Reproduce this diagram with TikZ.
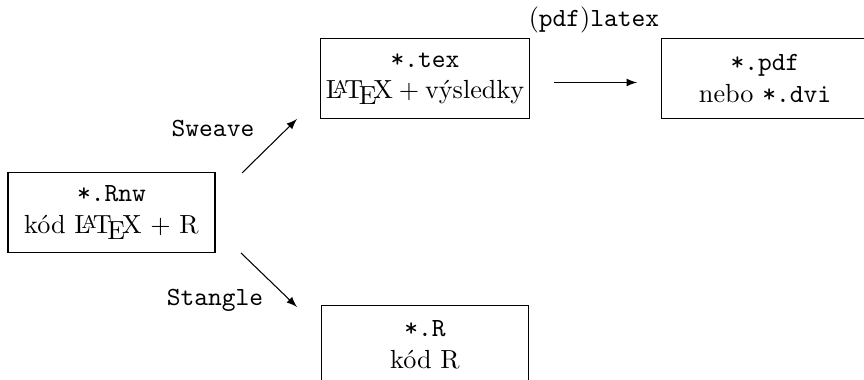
\documentclass[tikz,border=0pt]{standalone}
\usepackage{tikz}
\usetikzlibrary{calc}
\tikzset{
    filebox/.style={draw, align=center, minimum width=79pt, minimum height=30.5pt, inner sep=2pt},
    toolname/.style={font=\ttfamily}
}

\begin{document}
\begin{tikzpicture}[x=0.3817pt,y=-0.3817pt]
    \useasboundingbox (0,0) rectangle (864,380);
    \clip (0,0) rectangle (864,380);
    \node[filebox] (rnw) at (111.5,212.5) {\texttt{*.Rnw}\\kód \LaTeX{} + R};
    \node[filebox] (tex) at (425,78.5) {\texttt{*.tex}\\\LaTeX${}+{}$výsledky};
    \node[filebox] (pdf) at (765,78.5) {\texttt{*.pdf}\\nebo \texttt{*.dvi}};
    \node[filebox] (rfile) at (425,345) {\texttt{*.R}\\kód R};
    % arrows
    \coordinate (sweave-a) at (242,173);
    \coordinate (sweave-b) at (297,119);
    \coordinate (stangle-a) at (241,253);
    \coordinate (stangle-b) at (297,307);
    \coordinate (latex-a) at (554,82.5);
    \coordinate (latex-b) at (637,82.5);
    \draw[-latex] (sweave-a) -- (sweave-b);
    \draw[-latex] (stangle-a) -- (stangle-b);
    \draw[-latex] (latex-a) -- (latex-b);
    \node[toolname] (sweave) at (213,129) {Sweave};
    \node[toolname] (stangle) at (215,300) {Stangle};
    \node (pdflatex) at (594,20) {(\texttt{pdf})\texttt{latex}};
\end{tikzpicture}
\end{document}
